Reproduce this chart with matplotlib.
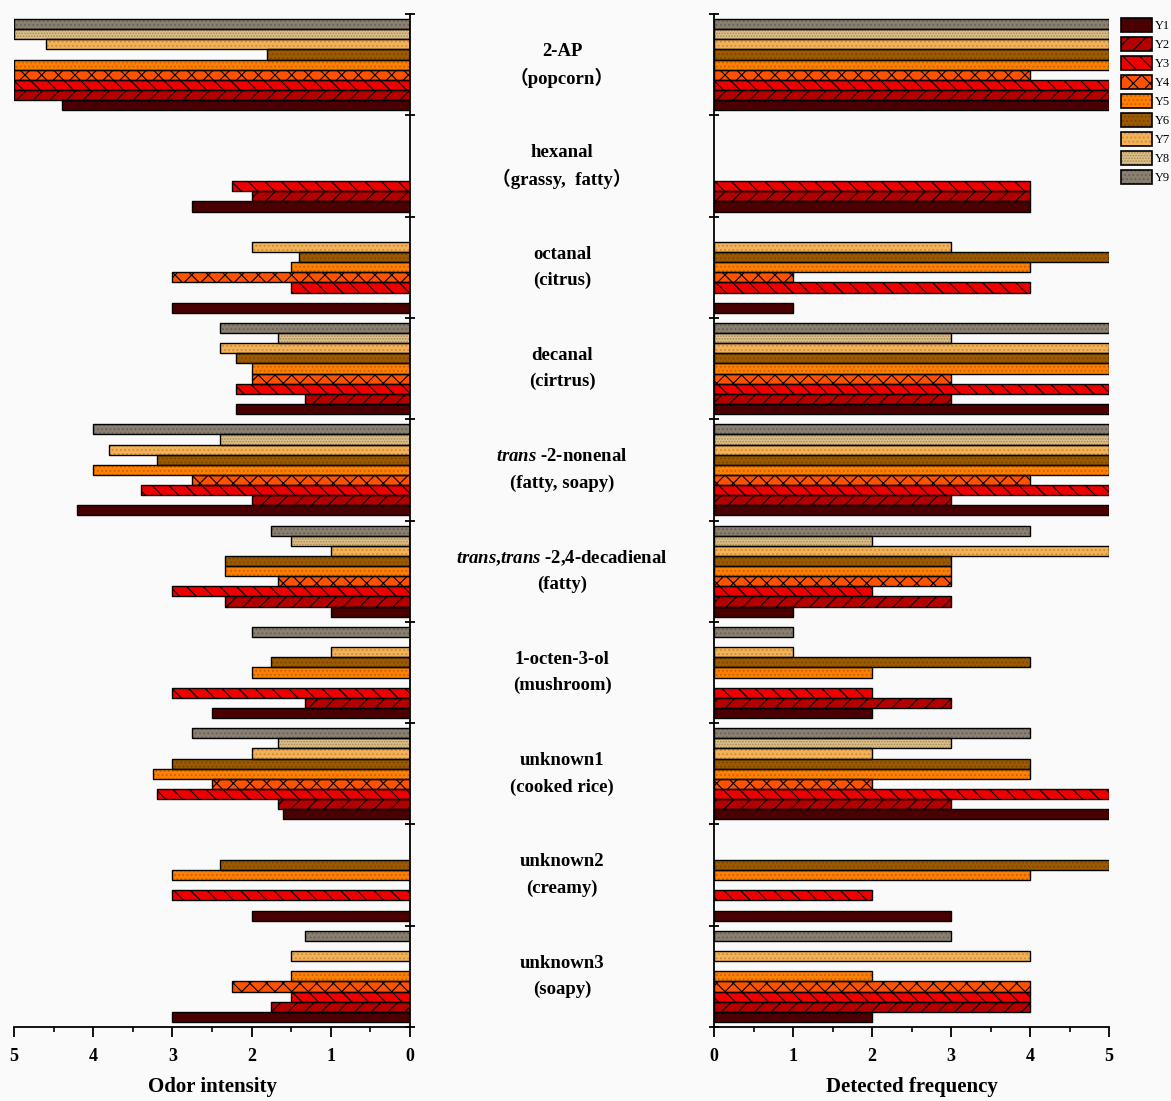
import numpy as np
import matplotlib
matplotlib.use("Agg")
import matplotlib.pyplot as plt
import matplotlib.transforms as mtransforms
from matplotlib.patches import Patch
from matplotlib.legend_handler import HandlerTuple

# compounds, top to bottom
name_lines = ["2-AP", "hexanal", "octanal", "decanal",
              r"$\mathit{trans}$ -2-nonenal",
              r"$\mathit{trans}$,$\mathit{trans}$ -2,4-decadienal",
              "1-octen-3-ol", "unknown1", "unknown2", "unknown3"]
odor_lines = ["（popcorn）", "（grassy,  fatty）", "(citrus)", "(cirtrus)",
              "(fatty, soapy)", "(fatty)", "(mushroom)", "(cooked rice)",
              "(creamy)", "(soapy)"]

samples = ["Y1", "Y2", "Y3", "Y4", "Y5", "Y6", "Y7", "Y8", "Y9"]

# odor intensity, one list per sample (compound order as above)
int_y1 = [4.4, 2.75, 3.0, 2.2, 4.2, 1.0, 2.5, 1.6, 2.0, 3.0]
int_y2 = [5.0, 2.0, 0, 1.33, 2.0, 2.33, 1.33, 1.67, 0, 1.75]
int_y3 = [5.0, 2.25, 1.5, 2.2, 3.4, 3.0, 3.0, 3.2, 3.0, 1.5]
int_y4 = [5.0, 0, 3.0, 2.0, 2.75, 1.67, 0, 2.5, 0, 2.25]
int_y5 = [5.0, 0, 1.5, 2.0, 4.0, 2.33, 2.0, 3.25, 3.0, 1.5]
int_y6 = [1.8, 0, 1.4, 2.2, 3.2, 2.33, 1.75, 3.0, 2.4, 0]
int_y7 = [4.6, 0, 2.0, 2.4, 3.8, 1.0, 1.0, 2.0, 0, 1.5]
int_y8 = [5.0, 0, 0, 1.67, 2.4, 1.5, 0, 1.67, 0, 0]
int_y9 = [5.0, 0, 0, 2.4, 4.0, 1.75, 2.0, 2.75, 0, 1.33]

# detected frequency
freq_y1 = [5, 4, 1, 5, 5, 1, 2, 5, 3, 2]
freq_y2 = [5, 4, 0, 3, 3, 3, 3, 3, 0, 4]
freq_y3 = [5, 4, 4, 5, 5, 2, 2, 5, 2, 4]
freq_y4 = [4, 0, 1, 3, 4, 3, 0, 2, 0, 4]
freq_y5 = [5, 0, 4, 5, 5, 3, 2, 4, 4, 2]
freq_y6 = [5, 0, 5, 5, 5, 3, 4, 4, 5, 0]
freq_y7 = [5, 0, 3, 5, 5, 5, 1, 2, 0, 4]
freq_y8 = [5, 0, 0, 3, 5, 2, 0, 3, 0, 0]
freq_y9 = [5, 0, 0, 5, 5, 4, 1, 4, 0, 3]

intensity = [int_y1, int_y2, int_y3, int_y4, int_y5, int_y6, int_y7, int_y8, int_y9]
frequency = [freq_y1, freq_y2, freq_y3, freq_y4, freq_y5, freq_y6, freq_y7, freq_y8, freq_y9]

colors = ["#4a0000", "#b30000", "#ee0000", "#ff5200", "#ff8000",
          "#9b5a00", "#f2b25a", "#dcc08c", "#8a8072"]
hatches = [None, "//", "\\\\", "xx", "....", "....", "....", "......", "...."]
hatch_cols = ["black", "black", "black", "black", "#c86000",
              "#7a4500", "#d08a30", "#a88850", "#6a6052"]

bg = "#fafafa"
plt.rcParams["font.family"] = ["Liberation Serif", "Noto Sans CJK SC"]
plt.rcParams["font.weight"] = "bold"
plt.rcParams["mathtext.fontset"] = "custom"
plt.rcParams["mathtext.it"] = "Liberation Serif:italic:bold"
plt.rcParams["mathtext.rm"] = "Liberation Serif:bold"
plt.rcParams["hatch.linewidth"] = 0.8

fig = plt.figure(figsize=(11.71, 11.01), dpi=100, facecolor=bg)
W, H = 1171, 1101
ax_l = fig.add_axes([14 / W, 1 - 1027 / H, 396 / W, 1013 / H], facecolor=bg)
ax_r = fig.add_axes([714 / W, 1 - 1027 / H, 395 / W, 1013 / H], facecolor=bg)

n = len(name_lines)
centers = np.arange(n)[::-1].astype(float)  # first compound at top
bh = 0.1

handles = []
for j in range(len(samples)):
    ypos = centers + (j - 4) * bh
    for ax, vals in ((ax_l, intensity[j]), (ax_r, frequency[j])):
        v = np.array(vals, dtype=float)
        keep = v > 0
        ax.barh(ypos[keep], v[keep], height=bh, color=colors[j],
                hatch=hatches[j], edgecolor=hatch_cols[j], linewidth=0, zorder=2)
        ax.barh(ypos[keep], v[keep], height=bh, facecolor="none",
                edgecolor="black", linewidth=1.0, zorder=3)
    handles.append((Patch(facecolor=colors[j], hatch=hatches[j],
                          edgecolor=hatch_cols[j], linewidth=0),
                    Patch(facecolor="none", edgecolor="black", linewidth=1.2)))

for ax in (ax_l, ax_r):
    ax.set_ylim(-0.5, n - 0.5)
    ax.set_yticks(np.arange(-0.5, n, 1.0))
    ax.set_yticklabels([])
    ax.set_xticks(np.arange(0, 6, 1))
    ax.set_xticks(np.arange(0.5, 5, 1), minor=True)
    ax.spines["top"].set_visible(False)
    for s in ax.spines.values():
        s.set_linewidth(1.3)
    ax.tick_params(axis="x", which="major", direction="out", length=7, width=1.3,
                   labelsize=13, pad=8)
    ax.tick_params(axis="x", which="minor", direction="out", length=3.5, width=1.2)
    ax.tick_params(axis="y", direction="inout", length=7, width=1.3)

ax_l.set_xlim(5, 0)
ax_l.spines["left"].set_visible(False)
ax_l.yaxis.tick_right()
ax_l.set_xlabel("Odor intensity", fontsize=15, fontweight="bold", labelpad=9)

ax_r.set_xlim(0, 5)
ax_r.spines["right"].set_visible(False)
ax_r.set_xlabel("Detected frequency", fontsize=15, fontweight="bold", labelpad=9)

# compound names in the middle
tr = mtransforms.blended_transform_factory(fig.transFigure, ax_l.transData)
xmid = 562 / W
for c, nm, od in zip(centers, name_lines, odor_lines):
    ax_l.text(xmid, c + 0.13, nm, transform=tr, ha="center", va="center",
              fontsize=13.5, fontweight="bold", clip_on=False)
    ax_l.text(xmid, c - 0.13, od, transform=tr, ha="center", va="center",
              fontsize=13.5, fontweight="bold", clip_on=False)

fig.legend(handles, samples, handler_map={tuple: HandlerTuple(ndivide=1, pad=0)},
           loc="upper left", bbox_to_anchor=(1121 / W, 1 - 18 / H),
           frameon=False, prop={"family": "Liberation Serif", "weight": "normal", "size": 9},
           handlelength=2.5, handleheight=1.4, labelspacing=0.36, handletextpad=0.25,
           borderaxespad=0, borderpad=0)

fig.savefig("out.png", dpi=100, facecolor=bg)
